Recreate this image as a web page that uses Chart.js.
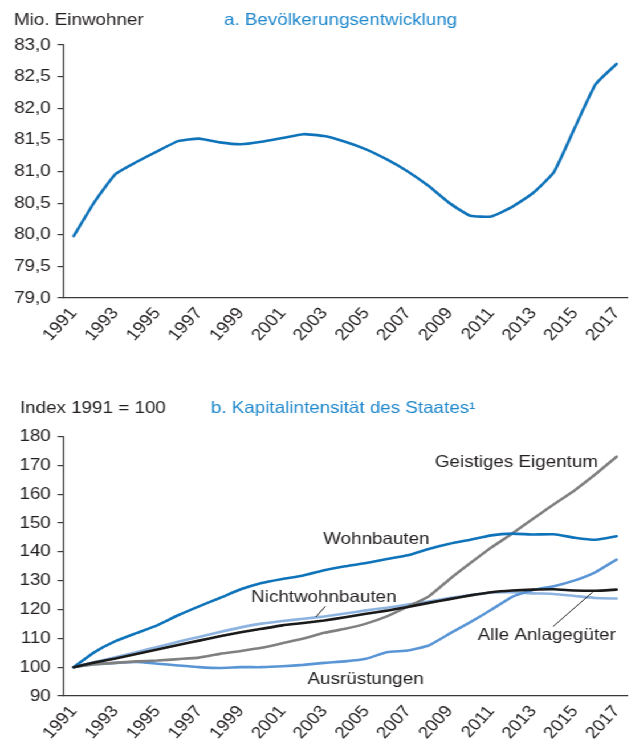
<!DOCTYPE html>
<html><head><meta charset="utf-8">
<script src="https://cdn.jsdelivr.net/npm/chart.js@4.4.1/dist/chart.umd.min.js"></script>
<style>
html,body{margin:0;padding:0;background:#fff;overflow:hidden}
#wrap{position:absolute;left:0;top:0;width:552px;height:740px;transform:scaleX(1.14);transform-origin:0 0}
.box{position:relative;width:552px;height:370px}
</style></head><body>
<div id="wrap"><div class="box"><canvas id="c1"></canvas></div><div class="box"><canvas id="c2"></canvas></div></div>
<script>
// ---- data ----
const years = ['1991','1992','1993','1994','1995','1996','1997','1998','1999','2000','2001','2002','2003','2004','2005','2006','2007','2008','2009','2010','2011','2012','2013','2014','2015','2016','2017'];
const population = [79.98,80.52,80.96,81.15,81.32,81.48,81.52,81.46,81.43,81.47,81.53,81.59,81.56,81.47,81.35,81.19,81.00,80.77,80.50,80.30,80.29,80.44,80.66,80.99,81.69,82.38,82.70];
const wohnbauten = [100,105.2,109.0,111.8,114.5,118.0,121.1,124.0,127.0,129.2,130.6,131.8,133.6,135.0,136.1,137.5,138.8,141.0,142.8,144.2,145.7,146.3,146.0,146.1,144.9,144.2,145.4];
const nichtwohnbauten = [100,101.8,103.4,105.2,107.0,108.8,110.5,112.2,113.8,115.1,116.0,116.8,117.6,118.6,119.7,120.6,121.7,122.8,124.0,125.0,125.9,126.0,125.6,125.4,124.7,124.0,123.8];
const ausruestungen = [100,101.0,101.5,101.8,101.2,100.6,100.0,99.7,100.0,100.0,100.3,100.8,101.5,102.0,102.9,105.2,105.8,107.5,111.6,115.6,119.9,124.4,126.8,128.1,130.1,133.0,137.3];
const geistigesEigentum = [100,101.0,101.5,102.0,102.3,102.8,103.3,104.6,105.6,106.7,108.3,109.9,111.9,113.3,115.1,117.6,121.0,124.5,130.5,136.1,141.5,146.3,151.5,156.5,161.4,167.0,173.0];
const alleAnlagegueter = [100,101.6,103.0,104.6,106.1,107.7,109.2,110.7,112.1,113.3,114.5,115.3,116.2,117.3,118.5,119.6,120.9,122.3,123.6,124.9,126.0,126.6,126.9,127.0,126.6,126.5,126.9];
const popTicks = {min:79, max:83, step:0.5};
const idxTicks = {min:90, max:180, step:10};

// ---- styling ----
const FONT = "'Liberation Sans', Arial, Helvetica, sans-serif";
const TXT = '#231f20';
const AX = '#3a3a3a';
Chart.defaults.font.family = FONT;
Chart.defaults.font.size = 16.5;
Chart.defaults.color = TXT;

const textPlugin = {
  id: 'texts',
  afterDraw(chart, args, opts) {
    const ctx = chart.ctx, xs = chart.scales.x, ys = chart.scales.y;
    ctx.save();
    ctx.font = '16.5px ' + FONT;
    ctx.textBaseline = 'alphabetic';
    ctx.textAlign = 'left';
    (opts.titles || []).forEach(t => { ctx.fillStyle = t.color; ctx.fillText(t.text, t.x, t.y); });
    ctx.strokeStyle = TXT; ctx.lineWidth = 1;
    (opts.leaders || []).forEach(l => {
      ctx.beginPath();
      ctx.moveTo(xs.getPixelForValue(l.x1), ys.getPixelForValue(l.y1));
      ctx.lineTo(xs.getPixelForValue(l.x2), ys.getPixelForValue(l.y2));
      ctx.stroke();
    });
    ctx.fillStyle = TXT;
    (opts.labels || []).forEach(l => ctx.fillText(l.text, xs.getPixelForValue(l.x), ys.getPixelForValue(l.y)));
    ctx.restore();
  }
};

function xScale(h) {
  return {
    type: 'category',
    offset: true,
    grid: {display: false, drawTicks: false},
    border: {display: true, color: AX, width: 1.2},
    ticks: {autoSkip: false, minRotation: 50, maxRotation: 50, padding: 6,
      callback: (v, i) => (i % 2 === 0 ? years[i] : '')},
    afterFit: s => { s.height = h; s.paddingLeft = 0; s.paddingRight = 0; }
  };
}
function yScale(t, fmt) {
  return {
    min: t.min, max: t.max,
    grid: {display: true, drawOnChartArea: false, drawTicks: true, tickLength: 5, color: AX, lineWidth: 1.2},
    border: {display: true, color: AX, width: 1.2},
    ticks: {stepSize: t.step, padding: 6, callback: fmt},
    afterFit: s => { s.width = 55.5; }
  };
}
function line(data, color) {
  return {data, borderColor: color, borderWidth: 2.6, pointRadius: 0, fill: false,
    tension: 0.15, borderJoinStyle: 'round', borderCapStyle: 'round'};
}

new Chart(document.getElementById('c1'), {
  type: 'line',
  data: {labels: years, datasets: [line(population, '#0f73ba')]},
  options: {
    responsive: true, maintainAspectRatio: false, animation: false,
    layout: {padding: {top: 45, right: 2, left: 0, bottom: 0}},
    scales: {x: xScale(72), y: yScale(popTicks, v => v.toFixed(1).replace('.', ','))},
    plugins: {legend: {display: false}, tooltip: {enabled: false},
      texts: {titles: [
        {text: 'Mio. Einwohner', x: 12.3, y: 25, color: TXT},
        {text: 'a. Bevölkerungsentwicklung', x: 196.5, y: 25, color: '#2088cc'}
      ]}}
  },
  plugins: [textPlugin]
});

new Chart(document.getElementById('c2'), {
  type: 'line',
  data: {labels: years, datasets: [
    line(alleAnlagegueter, '#1a1a1a'),
    line(wohnbauten, '#0f73ba'),
    line(geistigesEigentum, '#808080'),
    line(ausruestungen, '#5a95d5'),
    line(nichtwohnbauten, '#8db3e0')
  ]},
  options: {
    responsive: true, maintainAspectRatio: false, animation: false,
    layout: {padding: {top: 66.5, right: 2, left: 0, bottom: 0}},
    scales: {x: xScale(44), y: yScale(idxTicks, v => String(v))},
    plugins: {legend: {display: false}, tooltip: {enabled: false},
      texts: {
        titles: [
          {text: 'Index 1991 = 100', x: 17.5, y: 42.7, color: TXT},
          {text: 'b. Kapitalintensität des Staates\u00B9', x: 185, y: 42.7, color: '#2088cc'}
        ],
        labels: [
          {text: 'Geistiges Eigentum', x: 17.3, y: 169.3},
          {text: 'Wohnbauten', x: 11.95, y: 142.6},
          {text: 'Nichtwohnbauten', x: 8.5, y: 122.6},
          {text: 'Alle Anlagegüter', x: 19.35, y: 109.3},
          {text: 'Ausrüstungen', x: 11.2, y: 94.3}
        ],
        leaders: [
          {x1: 11.6, y1: 117.4, x2: 12.05, y2: 121.1},
          {x1: 22.96, y1: 114.1, x2: 24.85, y2: 126.0}
        ]
      }}
  },
  plugins: [textPlugin]
});
</script>
</body></html>
